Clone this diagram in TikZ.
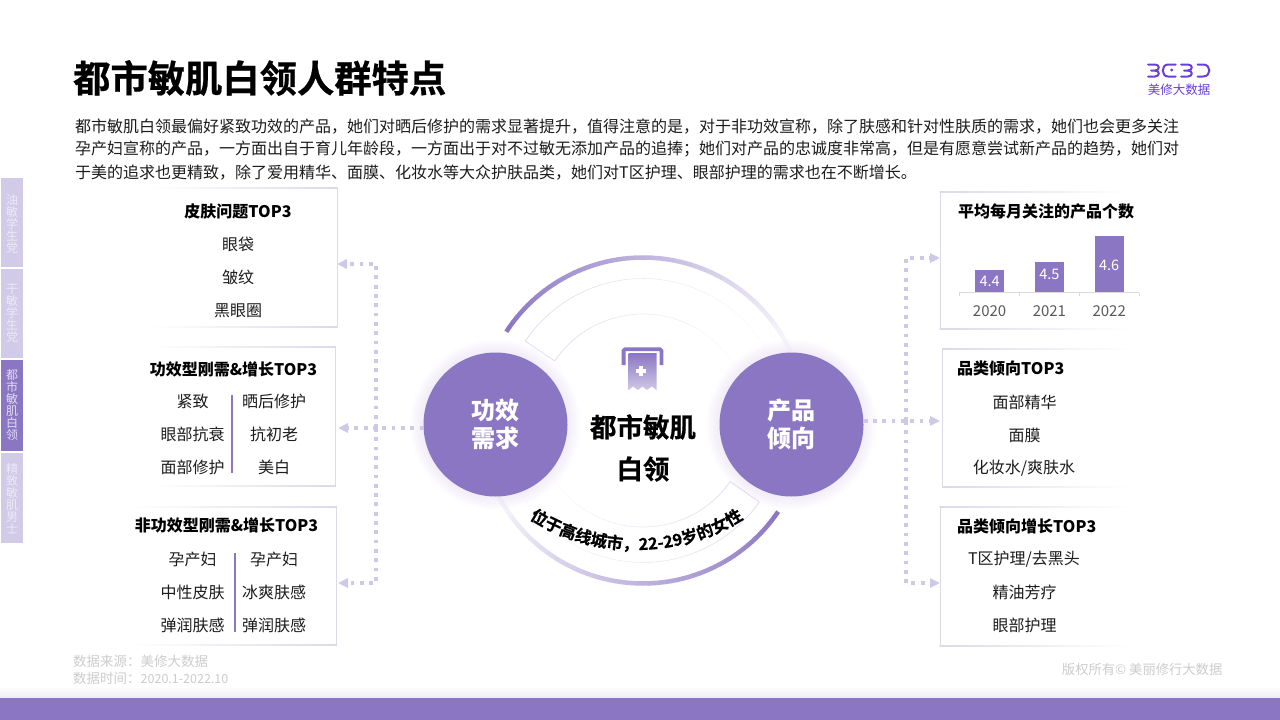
\documentclass[tikz,border=0pt]{standalone}
\usepackage{fontspec}
\setmainfont{Noto Sans CJK SC}
\newfontfamily\heavyfont[FakeBold=0.6]{Noto Sans CJK SC Bold}
\usetikzlibrary{arrows.meta,calc,decorations.text}
\definecolor{mainpurple}{HTML}{8B76C3}
\definecolor{lightpurple}{HTML}{D2CBE8}
\definecolor{dotpurple}{HTML}{CFC8E6}
\definecolor{logopurple}{HTML}{6A3FD9}
\definecolor{cardline}{HTML}{DCD9E8}
\definecolor{darktxt}{HTML}{1C1C1C}
\definecolor{foottxt}{HTML}{CCCCCC}
\tikzset{
  bodytxt/.style={anchor=west,inner sep=0,yshift=-1.2pt,text=darktxt,font=\fontsize{16}{16}\selectfont},
  itemtxt/.style={inner sep=0,yshift=-0.5pt,text=darktxt,font=\fontsize{16}{16}\selectfont},
  headtxt/.style={inner sep=0,yshift=-0.4pt,text=black,font=\fontsize{16}{16}\selectfont\bfseries},
  tabtxt/.style={inner sep=0,align=center,font=\fontsize{12}{12}\selectfont},
  foottxt/.style={inner sep=0,text=foottxt,font=\fontsize{13.5}{13.5}\selectfont},
  bigdot/.style={circle,fill=mainpurple,minimum size=144,inner sep=0},
  bigtxt/.style={inner sep=0,text=white,font=\fontsize{24}{24}\selectfont\bfseries},
  midtxt/.style={inner sep=0,text=black,font=\fontsize{26.5}{26.5}\heavyfont},
  cardbox/.style={inner sep=0,minimum width=187,minimum height=139},
  dotline/.style={dotpurple,line width=3.8,dash pattern=on 3.8pt off 5.5pt,-{Triangle[length=10pt,width=9pt]}},
  yeartxt/.style={inner sep=0,text=black!65,font=\fontsize{15}{15}\selectfont},
  valtxt/.style={inner sep=0,text=white,font=\fontsize{14.5}{14.5}\selectfont},
  logoline/.style={logopurple,line width=2,line cap=round}
}
\begin{document}
\begin{tikzpicture}[x=1pt,y=-1pt]
\useasboundingbox (0,0) rectangle (1280,720);
\fill[white] (0,0) rectangle (1280,720);
\shade[top color=white,bottom color=black!7] (0,686) rectangle (1280,698);
\fill[mainpurple] (0,698) rectangle (1280,720);

\node[anchor=west,inner sep=0,text=black,font=\fontsize{37.3}{37.3}\heavyfont] (title) at (73,78) {都市敏肌白领人群特点};
\node[bodytxt] (lineone) at (75,125) {都市敏肌白领最偏好紧致功效的产品，她们对晒后修护的需求显著提升，值得注意的是，对于非功效宣称，除了肤感和针对性肤质的需求，她们也会更多关注};
\node[bodytxt] (linetwo) at (75,148) {孕产妇宣称的产品，一方面出自于育儿年龄段，一方面出于对不过敏无添加产品的追捧；她们对产品的忠诚度非常高，但是有愿意尝试新产品的趋势，她们对};
\node[bodytxt] (linethree) at (75,171) {于美的追求也更精致，除了爱用精华、面膜、化妆水等大众护肤品类，她们对T区护理、眼部护理的需求也在不断增长。};

% logo
\draw[logoline] (1148,64.5) -- (1155,64.5) .. controls (1160,64.5) and (1160,70.5) .. (1155,70.5) -- (1151,70.5);
\draw[logoline] (1155,70.5) .. controls (1160,70.5) and (1160,76.5) .. (1155,76.5) -- (1148,76.5);
\draw[logoline] (1175.5,64.5) -- (1168,64.5) .. controls (1161,64.5) and (1161,76.5) .. (1168,76.5) -- (1175.5,76.5);
\fill[logopurple] (1171.7,70) circle[radius=1.6];
\draw[logoline] (1181,64.5) -- (1188,64.5) .. controls (1193,64.5) and (1193,70.5) .. (1188,70.5) -- (1184,70.5);
\draw[logoline] (1188,70.5) .. controls (1193,70.5) and (1193,76.5) .. (1188,76.5) -- (1181,76.5);
\draw[logoline] (1197.5,64.5) -- (1203,64.5) .. controls (1211.5,64.5) and (1211.5,76.5) .. (1203,76.5) -- (1197.5,76.5);
\node[inner sep=0,text=logopurple,font=\fontsize{12.5}{12.5}\selectfont] (logotxt) at (1179,90) {美修大数据};

% side tabs
\fill[lightpurple] (1,178) rectangle (22.5,267);
\fill[lightpurple] (1,268.5) rectangle (22.5,358);
\fill[mainpurple] (1,360) rectangle (22.5,451);
\fill[lightpurple] (1,452.5) rectangle (22.5,543);
\node[tabtxt,text=white!60!lightpurple] (taboil) at (12,224) {油\\敏\\学\\生\\党};
\node[tabtxt,text=white!60!lightpurple] (tabdry) at (12,313) {干\\敏\\学\\生\\党};
\node[tabtxt,text=white!75!mainpurple] (tabcity) at (12,405) {都\\市\\敏\\肌\\白\\领};
\node[tabtxt,text=white!60!lightpurple] (tabmen) at (12,499) {精\\致\\敏\\肌\\男\\士};

% cards on the left
\foreach \nm/\xl/\xr/\yt/\yb in {skin/150/337/188/327,hard/150/335.5/347/486,soft/130/336.5/506.5/644.5}{
  \node[cardbox] (card\nm) at ({(\xl+\xr)/2},{(\yt+\yb)/2}) {};
  \draw[cardline,line width=1] (\xr,\yt) -- (\xr,\yb);
  \shade[left color=white,right color=cardline] (\xl,\yt-0.5) rectangle (\xr+0.5,\yt+0.5);
  \shade[left color=white,right color=cardline] (\xl,\yb-0.5) rectangle (\xr+0.5,\yb+0.5);
}
% cards on the right
\foreach \nm/\xl/\xr/\yt/\yb in {count/940/1130/192/329,kind/942.5/1130/349/487,grow/940/1130/507/646}{
  \node[cardbox] (card\nm) at ({(\xl+\xr)/2},{(\yt+\yb)/2}) {};
  \draw[cardline,line width=1] (\xl,\yt) -- (\xl,\yb);
  \shade[right color=white,left color=cardline] (\xl-0.5,\yt-0.5) rectangle (\xr,\yt+0.5);
  \shade[right color=white,left color=cardline] (\xl-0.5,\yb-0.5) rectangle (\xr,\yb+0.5);
}

\node[headtxt] (skinhead) at (238,211) {皮肤问题TOP3};
\node[itemtxt] (skinone) at (238,244) {眼袋};
\node[itemtxt] (skintwo) at (238,277) {皱纹};
\node[itemtxt] (skinthree) at (238,310) {黑眼圈};

\node[headtxt] (hardhead) at (233.5,369) {功效型刚需\&增长TOP3};
\node[itemtxt] (hardaone) at (192.5,401) {紧致};
\node[itemtxt] (hardatwo) at (192.5,434) {眼部抗衰};
\node[itemtxt] (hardathree) at (192.5,467) {面部修护};
\node[itemtxt] (hardbone) at (274,401) {晒后修护};
\node[itemtxt] (hardbtwo) at (274,434) {抗初老};
\node[itemtxt] (hardbthree) at (274,467) {美白};
\draw[mainpurple,line width=2] (231.5,395) -- (231.5,473);

\node[headtxt] (softhead) at (226.5,525) {非功效型刚需\&增长TOP3};
\node[itemtxt] (softaone) at (192.5,559) {孕产妇};
\node[itemtxt] (softatwo) at (192.5,592) {中性皮肤};
\node[itemtxt] (softathree) at (192.5,625) {弹润肤感};
\node[itemtxt] (softbone) at (274,559) {孕产妇};
\node[itemtxt] (softbtwo) at (274,592) {冰爽肤感};
\node[itemtxt] (softbthree) at (274,625) {弹润肤感};
\draw[mainpurple,line width=2] (234.5,553) -- (234.5,632);

\node[headtxt] (counthead) at (1046,211) {平均每月关注的产品个数};
\draw[black!15,line width=0.8] (959.3,292.5) -- (1139,292.5);
\foreach \x in {959.3,1019.2,1079.1,1139}{
  \draw[black!15,line width=0.8] (\x,292.5) -- (\x,296);
}
\foreach \nm/\cx/\ytop/\yval/\val in {yra/989.6/270/281/4.4,yrb/1049.4/262/274/4.5,yrc/1109.2/235.7/265/4.6}{
  \fill[mainpurple] (\cx-14.7,\ytop) rectangle (\cx+14.7,292);
  \node[valtxt] (val\nm) at (\cx,\yval) {\val};
}
\node[yeartxt] (yeara) at (989.6,311.5) {2020};
\node[yeartxt] (yearb) at (1049.4,311.5) {2021};
\node[yeartxt] (yearc) at (1109.2,311.5) {2022};

\node[headtxt,anchor=west] (kindhead) at (957,368) {品类倾向TOP3};
\node[itemtxt] (kindone) at (1024.5,402) {面部精华};
\node[itemtxt] (kindtwo) at (1024.5,435) {面膜};
\node[itemtxt] (kindthree) at (1024,468) {化妆水/爽肤水};

\node[headtxt,anchor=west] (growhead) at (957,526) {品类倾向增长TOP3};
\node[itemtxt] (growone) at (1024,559) {T区护理/去黑头};
\node[itemtxt] (growtwo) at (1024.5,592) {精油芳疗};
\node[itemtxt] (growthree) at (1024.5,625) {眼部护理};

% rings round the middle
\coordinate (mid) at (643,420.5);
\foreach \a in {0,2,...,126}{
  \pgfmathsetmacro\p{max(0,100-\a/1.25)}
  \draw[mainpurple!\p!white,line width=4.5] ($(mid)+(213+\a:163)$) -- ($(mid)+(213+\a+2.2:163)$);
  \draw[mainpurple!\p!white,line width=4.5] ($(mid)+(34+\a:163)$) -- ($(mid)+(34+\a+2.2:163)$);
}
\foreach \a in {0,3,...,120}{
  \pgfmathsetmacro\p{max(0,30-\a*0.25)}
  \draw[mainpurple!\p!white,line width=0.6] ($(mid)+(214+\a:142)$) -- ($(mid)+(214+\a+3:142)$);
  \draw[mainpurple!\p!white,line width=0.6] ($(mid)+(214+\a:106.5)$) -- ($(mid)+(214+\a+3:106.5)$);
  \draw[mainpurple!\p!white,line width=0.6] ($(mid)+(35+\a:142)$) -- ($(mid)+(35+\a+3:142)$);
  \draw[mainpurple!\p!white,line width=0.6] ($(mid)+(35+\a:106.5)$) -- ($(mid)+(35+\a+3:106.5)$);
}
\draw[mainpurple!30!white,line width=0.6] ($(mid)+(214:142)$) -- ($(mid)+(214:106.5)$);
\draw[mainpurple!30!white,line width=0.6] ($(mid)+(35:142)$) -- ($(mid)+(35:106.5)$);

% glow under the two big circles
\foreach \r in {73,75,...,85}{
  \fill[mainpurple,opacity=0.016] (495.5,424.5) circle[radius=\r];
  \fill[mainpurple,opacity=0.016] (791.5,424.5) circle[radius=\r];
}
\node[bigdot] (effect) at (495.5,424.5) {};
\node[bigdot] (product) at (791.5,424.5) {};
\node[bigtxt] (effecta) at (495.5,410) {功效};
\node[bigtxt] (effectb) at (495.5,438) {需求};
\node[bigtxt] (producta) at (791,410.5) {产品};
\node[bigtxt] (productb) at (791,438.5) {倾向};

% icon
\shade[top color=mainpurple,bottom color=dotpurple] (628.5,353) -- (656.5,353) -- (656.5,390) -- (651.8,386.5) -- (647,390) -- (642.5,386.5) -- (638,390) -- (633,386.5) -- (628.5,390) -- cycle;
\draw[mainpurple,line width=3.8,rounded corners=1.5] (623.6,365) -- (623.6,349.2) -- (661.4,349.2) -- (661.4,365);
\draw[white,line width=3.4] (636,370.8) -- (645.6,370.8);
\draw[white,line width=3.4] (640.8,366) -- (640.8,375.6);

\node[midtxt] (mida) at (643,427) {都市敏肌};
\node[midtxt] (midb) at (643,469) {白领};

% curved line of text
\path[decorate,decoration={text along path,text align=center,
  text={|\fontsize{16.5}{16.5}\heavyfont|位于高线城市，22-29岁的女性}}]
  (509.2,503.7) .. controls (582.8,565.5) and (690.2,565.5) .. (763.8,503.7);

% connectors
\coordinate (lbus) at (376,428);
\coordinate (rbus) at (906,421);
\coordinate (tipskin) at (337,264);
\coordinate (tiphard) at (338,428);
\coordinate (tipsoft) at (338,583);
\coordinate (tipcount) at (940,258);
\coordinate (tipkind) at (940,421);
\coordinate (tipgrow) at (940,583);
\draw[dotline] (effect.west |- lbus) -- (tiphard);
\draw[dotline] (lbus) |- (tipskin);
\draw[dotline] (lbus) |- (tipsoft);
\draw[dotline] (product.east |- rbus) -- (tipkind);
\draw[dotline] (rbus) |- (tipcount);
\draw[dotline] (rbus) |- (tipgrow);

\node[foottxt,anchor=west] (foota) at (73,661.5) {数据来源：美修大数据};
\node[foottxt,anchor=west] (footb) at (73,678) {数据时间：{\fontsize{12.5}{12.5}\selectfont 2020.1-2022.10}};
\node[foottxt,anchor=east,font=\fontsize{13.3}{13.3}\selectfont] (footc) at (1222.5,669) {版权所有© 美丽修行大数据};
\end{tikzpicture}
\end{document}
